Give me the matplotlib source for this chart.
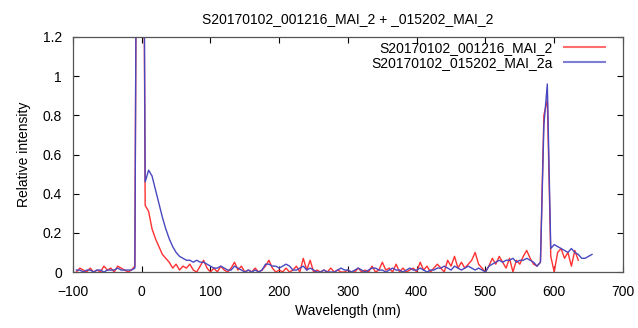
import numpy as np
import matplotlib
matplotlib.use("Agg")
import matplotlib.pyplot as plt
from matplotlib.ticker import FuncFormatter, MultipleLocator

plt.rcParams['font.family'] = ['Liberation Sans', 'DejaVu Sans']

title = "S20170102_001216_MAI_2 + _015202_MAI_2"
label_red = "S20170102_001216_MAI_2"
label_blue = "S20170102_015202_MAI_2a"

# wavelengths (nm)
wl_red = np.arange(-95, 640, 5)
wl_blue = np.arange(-95, 660, 5)

red_vals = [
    0.00, 0.02, 0.01, 0.00, 0.02, 0.00, 0.01, 0.00, 0.03, 0.01,   # -95..-50
    0.02, 0.00, 0.03, 0.02, 0.01, 0.00, 0.01, 0.03, 4.00, 4.00,   # -45..0
    0.34, 0.31, 0.22, 0.17, 0.13, 0.09, 0.07, 0.05, 0.02, 0.04,   # 5..50
    0.01, 0.03, 0.02, 0.04, 0.01, 0.00, 0.03, 0.06, 0.02, 0.00,   # 55..100
    0.02, 0.00, 0.03, 0.01, 0.00, 0.02, 0.05, 0.01, 0.03, 0.00,   # 105..150
    0.01, 0.00, 0.02, 0.00, 0.01, 0.03, 0.06, 0.02, 0.00, 0.01,   # 155..200
    0.00, 0.02, 0.00, 0.01, 0.03, 0.00, 0.07, 0.01, 0.06, 0.00,   # 205..250
    0.01, 0.00, 0.01, 0.00, 0.02, 0.00, 0.01, 0.00, 0.00, 0.01,   # 255..300
    0.00, 0.00, 0.02, 0.00, 0.01, 0.00, 0.03, 0.00, 0.01, 0.05,   # 305..350
    0.01, 0.02, 0.00, 0.04, 0.00, 0.02, 0.00, 0.01, 0.02, 0.00,   # 355..400
    0.05, 0.01, 0.03, 0.00, 0.02, 0.04, 0.02, 0.00, 0.06, 0.03,   # 405..450
    0.08, 0.02, 0.05, 0.02, 0.04, 0.06, 0.10, 0.04, 0.02, 0.00,   # 455..500
    0.03, 0.07, 0.04, 0.08, 0.05, 0.02, 0.07, 0.00, 0.06, 0.04,   # 505..550
    0.08, 0.11, 0.07, 0.04, 0.03, 0.05, 0.80, 0.88, 0.08, 0.00,   # 555..600
    0.10, 0.12, 0.07, 0.10, 0.03, 0.11, 0.06,                     # 605..635
]

blue_vals = [
    0.01, 0.01, 0.00, 0.01, 0.01, 0.00, 0.01, 0.01, 0.00, 0.01,   # -95..-50
    0.01, 0.01, 0.02, 0.01, 0.01, 0.01, 0.01, 0.02, 4.00, 4.00,   # -45..0
    0.46, 0.52, 0.49, 0.42, 0.35, 0.28, 0.22, 0.17, 0.13, 0.10,   # 5..50
    0.08, 0.07, 0.06, 0.06, 0.05, 0.06, 0.05, 0.05, 0.04, 0.03,   # 55..100
    0.02, 0.02, 0.03, 0.02, 0.01, 0.01, 0.03, 0.02, 0.01, 0.00,   # 105..150
    0.01, 0.00, 0.01, 0.00, 0.01, 0.04, 0.04, 0.03, 0.03, 0.02,   # 155..200
    0.03, 0.04, 0.03, 0.01, 0.01, 0.02, 0.03, 0.01, 0.02, 0.01,   # 205..250
    0.00, 0.00, 0.01, 0.00, 0.00, 0.00, 0.01, 0.02, 0.01, 0.01,   # 255..300
    0.00, 0.01, 0.02, 0.01, 0.00, 0.01, 0.02, 0.02, 0.01, 0.01,   # 305..350
    0.00, 0.01, 0.02, 0.01, 0.01, 0.00, 0.01, 0.02, 0.01, 0.01,   # 355..400
    0.02, 0.01, 0.00, 0.01, 0.01, 0.02, 0.02, 0.03, 0.02, 0.01,   # 405..450
    0.03, 0.02, 0.01, 0.02, 0.03, 0.02, 0.01, 0.02, 0.01, 0.00,   # 455..500
    0.03, 0.04, 0.05, 0.06, 0.05, 0.06, 0.06, 0.07, 0.05, 0.06,   # 505..550
    0.06, 0.07, 0.06, 0.05, 0.03, 0.05, 0.75, 0.96, 0.12, 0.14,   # 555..600
    0.13, 0.12, 0.11, 0.10, 0.12, 0.10, 0.09, 0.07, 0.07, 0.08,   # 605..650
    0.09,                                                         # 655
]

fig = plt.figure(figsize=(6.38, 3.28), dpi=100)
ax = fig.add_axes([0.1144, 0.1707, 0.862, 0.7165])

ax.plot(wl_red, red_vals, color='#ff3030', lw=1.0, label=label_red)
ax.plot(wl_blue, blue_vals, color='#4848c0', lw=1.0, label=label_blue)

ax.set_xlim(-100, 700)
ax.set_ylim(0, 1.2)
ax.xaxis.set_major_locator(MultipleLocator(100))
ax.yaxis.set_major_locator(MultipleLocator(0.2))
ax.yaxis.set_major_formatter(FuncFormatter(lambda v, p: '%g' % round(v, 2)))
ax.tick_params(direction='in', top=True, right=True, length=4, labelsize=10, width=0.8)
ax.tick_params(axis='x', pad=9)
ax.tick_params(axis='y', pad=8)
for s in ax.spines.values():
    s.set_color('#555555')
    s.set_linewidth(0.9)

ax.set_title(title, fontsize=10, pad=10)
ax.set_xlabel("Wavelength (nm)", fontsize=10, labelpad=4)
ax.set_ylabel("Relative intensity", fontsize=10, labelpad=8)

leg = ax.legend(loc='upper right', frameon=False, markerfirst=False, fontsize=10,
                handlelength=3.0, handletextpad=0.8, borderaxespad=0.0,
                labelspacing=0.1, borderpad=0.0, bbox_to_anchor=(0.968, 0.985))
for line in leg.get_lines():
    line.set_alpha(0.7)
    line.set_linewidth(1.5)

fig.savefig("out.png", dpi=100)
